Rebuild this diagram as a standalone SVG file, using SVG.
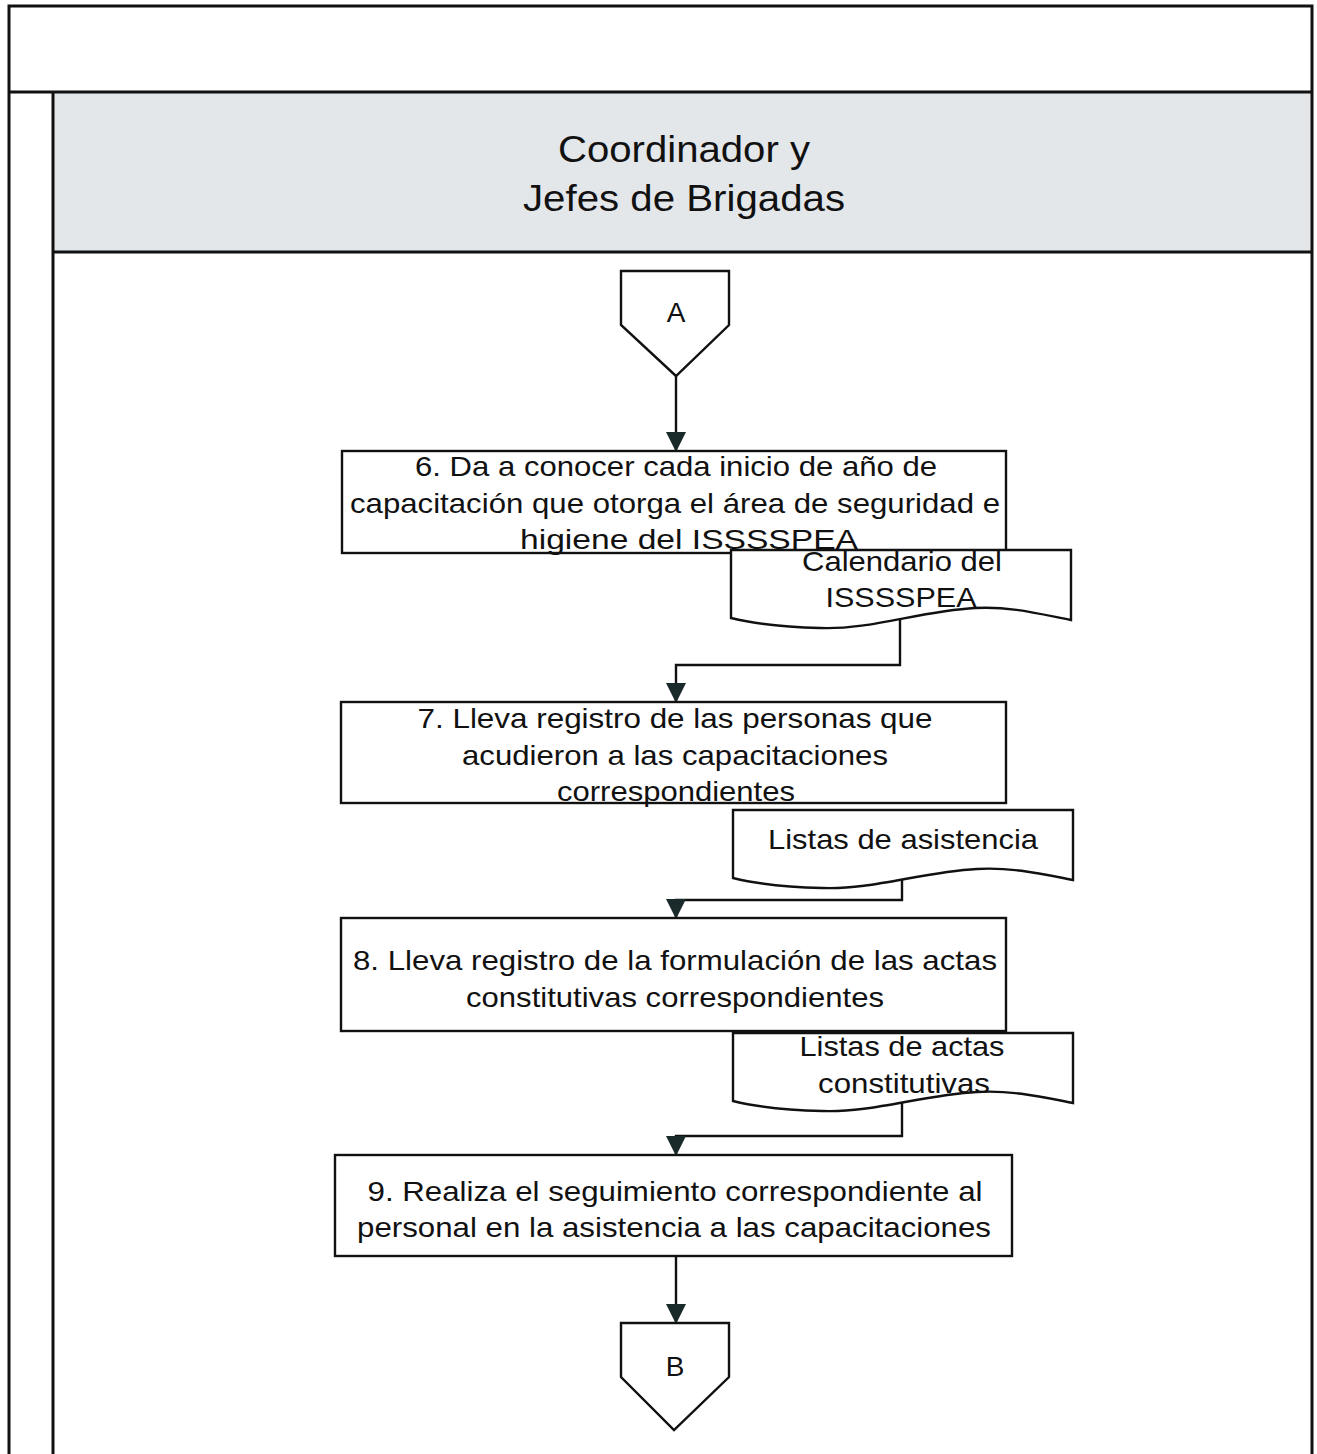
<svg xmlns="http://www.w3.org/2000/svg" width="1317" height="1454" viewBox="0 0 1317 1454">
  <style>
    .frame { fill: none; stroke: #111111; stroke-width: 3; }
    .shape { fill: #ffffff; stroke: #111111; stroke-width: 2.4; }
    .wire { fill: none; stroke: #111111; stroke-width: 2.4; }
    text { font-family: "Liberation Sans", Arial, sans-serif; fill: #111111; text-anchor: middle; }
    .t { font-size: 28px; }
    .title { font-size: 37px; }
  </style>
  <defs>
    <marker id="arrow" markerWidth="20" markerHeight="20" refX="19" refY="10" orient="auto" markerUnits="userSpaceOnUse" viewBox="0 0 20 20">
      <path d="M0,0 L20,10 L0,20 Z" fill="#1a2a2a"/>
    </marker>
  </defs>

  <rect width="1317" height="1454" fill="#ffffff"/>

  <!-- swimlane frame -->
  <g id="lane">
    <rect x="53" y="93" width="1259" height="159" fill="#e3e7ea"/>
    <path class="frame" d="M9,1454 V6 H1312 V1454"/>
    <path class="frame" d="M9,92 H1312"/>
    <path class="frame" d="M53,1454 V92"/>
    <path class="frame" d="M53,252 H1312"/>
    <text class="title" x="684" y="162" textLength="252" lengthAdjust="spacingAndGlyphs">Coordinador y</text>
    <text class="title" x="684" y="211" textLength="322" lengthAdjust="spacingAndGlyphs">Jefes de Brigadas</text>
  </g>

  <!-- connectors -->
  <g id="connectors">
    <path class="wire" d="M676,376 V451" marker-end="url(#arrow)"/>
    <path class="wire" d="M900,614 V665 H676 V702" marker-end="url(#arrow)"/>
    <path class="wire" d="M902,878 V900 H676 V918" marker-end="url(#arrow)"/>
    <path class="wire" d="M902,1092 V1136 H676 V1155" marker-end="url(#arrow)"/>
    <path class="wire" d="M676,1256 V1323" marker-end="url(#arrow)"/>
  </g>

  <!-- off-page connector A -->
  <g id="offpage-a">
    <path class="shape" d="M621,271 H729 V325 L676,376 L621,325 Z"/>
    <text class="t" x="676" y="322">A</text>
  </g>

  <!-- step 6 -->
  <g id="step6">
    <rect class="shape" x="342" y="451" width="664" height="102"/>
    <text class="t" x="676" y="476" textLength="522" lengthAdjust="spacingAndGlyphs">6. Da a conocer cada inicio de año de</text>
    <text class="t" x="675" y="513" textLength="650" lengthAdjust="spacingAndGlyphs">capacitación que otorga el área de seguridad e</text>
    <text class="t" x="689" y="549" textLength="338" lengthAdjust="spacingAndGlyphs">higiene del ISSSSPEA</text>
  </g>

  <!-- document: Calendario del ISSSSPEA -->
  <g id="doc-calendario">
    <path class="shape" d="M731,550 H1071 V620 C1040,614 1010,606 975,608 C920,611 870,630 820,628 C780,627 755,624 731,618 Z"/>
    <text class="t" x="902" y="571" textLength="200" lengthAdjust="spacingAndGlyphs">Calendario del</text>
    <text class="t" x="901" y="607" textLength="151" lengthAdjust="spacingAndGlyphs">ISSSSPEA</text>
  </g>

  <!-- step 7 -->
  <g id="step7">
    <rect class="shape" x="341" y="702" width="665" height="101"/>
    <text class="t" x="675" y="728" textLength="515" lengthAdjust="spacingAndGlyphs">7. Lleva registro de las personas que</text>
    <text class="t" x="675" y="765" textLength="426" lengthAdjust="spacingAndGlyphs">acudieron a las capacitaciones</text>
    <text class="t" x="676" y="801" textLength="238" lengthAdjust="spacingAndGlyphs">correspondientes</text>
  </g>

  <!-- document: Listas de asistencia -->
  <g id="doc-asistencia">
    <path class="shape" d="M733,810 H1073 V880 C1042,874 1012,867 977,869 C922,872 872,890 822,888 C782,887 757,884 733,878 Z"/>
    <text class="t" x="903" y="849" textLength="270" lengthAdjust="spacingAndGlyphs">Listas de asistencia</text>
  </g>

  <!-- step 8 -->
  <g id="step8">
    <rect class="shape" x="341" y="918" width="665" height="113"/>
    <text class="t" x="675" y="970" textLength="644" lengthAdjust="spacingAndGlyphs">8. Lleva registro de la formulación de las actas</text>
    <text class="t" x="675" y="1007" textLength="418" lengthAdjust="spacingAndGlyphs">constitutivas correspondientes</text>
  </g>

  <!-- document: Listas de actas constitutivas -->
  <g id="doc-actas">
    <path class="shape" d="M733,1033 H1073 V1103 C1042,1097 1012,1090 977,1092 C922,1095 872,1113 822,1111 C782,1110 757,1107 733,1101 Z"/>
    <text class="t" x="902" y="1056" textLength="205" lengthAdjust="spacingAndGlyphs">Listas de actas</text>
    <text class="t" x="904" y="1093" textLength="172" lengthAdjust="spacingAndGlyphs">constitutivas</text>
  </g>

  <!-- step 9 -->
  <g id="step9">
    <rect class="shape" x="335" y="1155" width="677" height="101"/>
    <text class="t" x="675" y="1201" textLength="615" lengthAdjust="spacingAndGlyphs">9. Realiza el seguimiento correspondiente al</text>
    <text class="t" x="674" y="1237" textLength="634" lengthAdjust="spacingAndGlyphs">personal en la asistencia a las capacitaciones</text>
  </g>

  <!-- off-page connector B -->
  <g id="offpage-b">
    <path class="shape" d="M621,1323 H729 V1377 L674,1430 L621,1377 Z"/>
    <text class="t" x="675" y="1376">B</text>
  </g>
</svg>
